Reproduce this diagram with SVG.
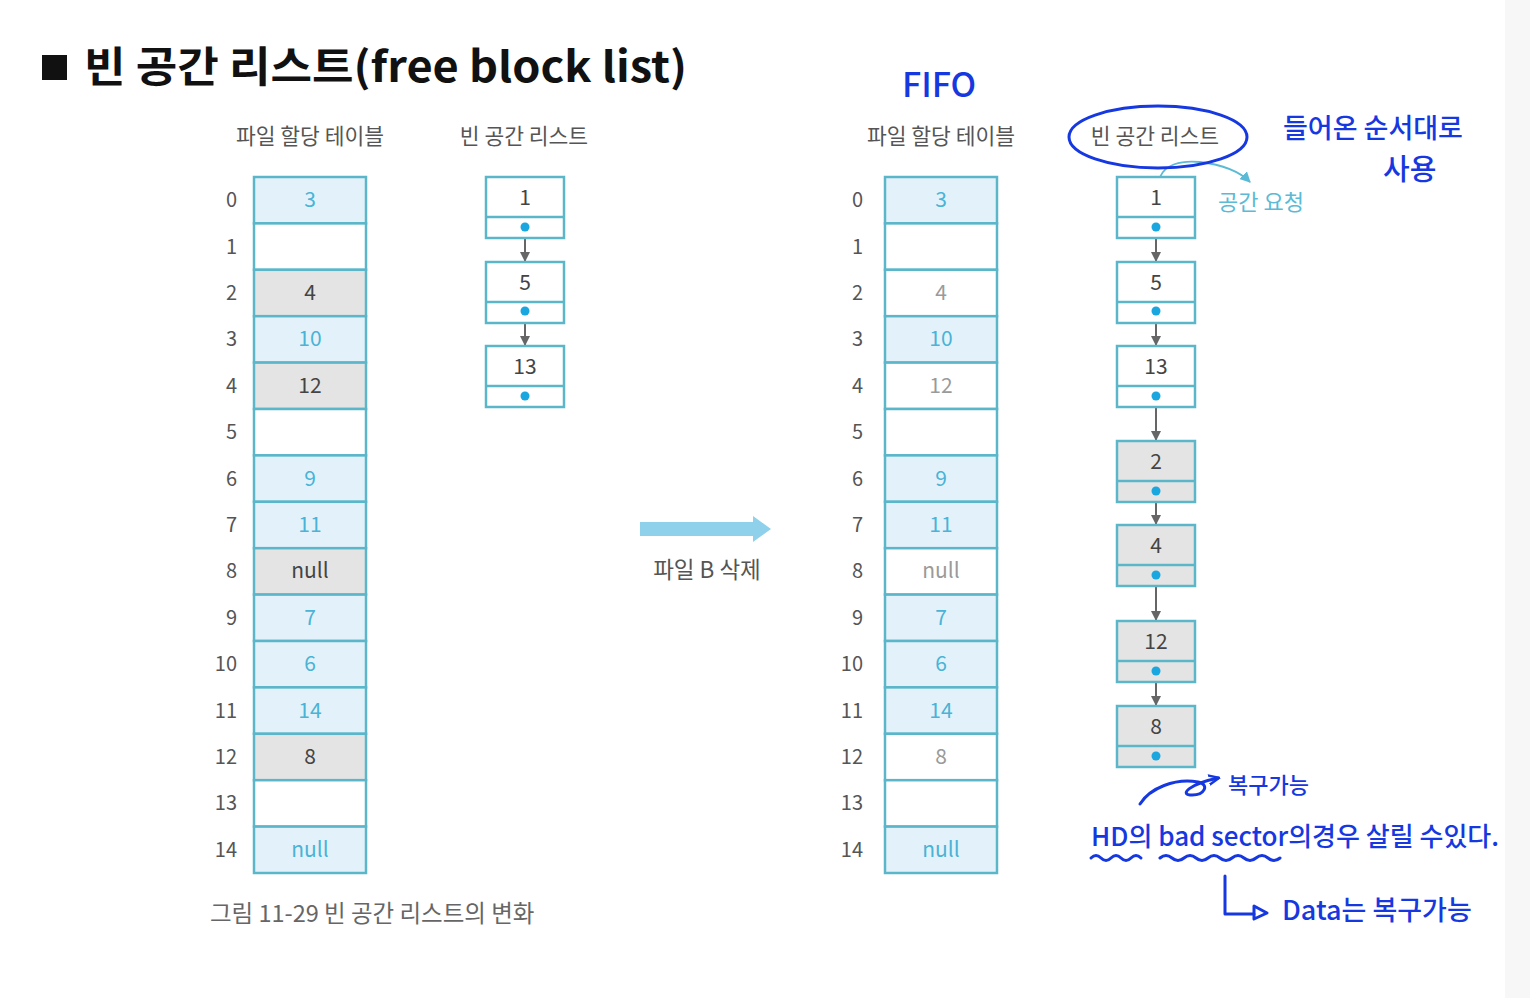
<svg xmlns="http://www.w3.org/2000/svg" width="1530" height="998" viewBox="0 0 1530 998">
<style>
text{font-family:"Noto Sans CJK KR","Noto Sans",sans-serif}
.cell{stroke:#5bb6ca;stroke-width:2.5}
.lb{fill:#e3f2fa}
.gr{fill:#e4e4e4}
.wh{fill:#ffffff}
.idx{font-size:20px;fill:#555;text-anchor:end}
.tv{font-size:21px;fill:#4ab3d6;text-anchor:middle}
.dv{font-size:21px;fill:#444;text-anchor:middle}
.lv{font-size:21px;fill:#9a9a9a;text-anchor:middle}
.hdr{font-size:21.5px;fill:#555;text-anchor:middle}
.dot{fill:#1aa7e0}
.ptr{stroke:#666;stroke-width:2;fill:none}
.hw{fill:#1638e0;font-weight:500}
.hwl{stroke:#1638e0;stroke-width:3;fill:none;stroke-linecap:round;stroke-linejoin:round}
</style>
<defs>
<marker id="ah" viewBox="0 0 10 10" refX="9" refY="5" markerWidth="5" markerHeight="5" orient="auto"><path d="M0,0 L10,5 L0,10 z" fill="#666"/></marker>
<marker id="ahT" viewBox="0 0 10 10" refX="9" refY="5" markerWidth="6" markerHeight="6" orient="auto"><path d="M0,0 L10,5 L0,10 z" fill="#5bbad5"/></marker>
<marker id="ahB" viewBox="0 0 10 10" refX="8" refY="5" markerWidth="4" markerHeight="4" orient="auto"><path d="M0,1 L9,5 L0,9" fill="none" stroke="#1638e0" stroke-width="2"/></marker>
</defs>
<rect width="1530" height="998" fill="#ffffff"/>
<rect x="1505" y="0" width="25" height="998" fill="#f7f7f7"/>

<g id="title">
<rect x="42" y="55" width="25" height="25" fill="#111"/>
<text x="84" y="82" font-size="42" font-weight="700" fill="#111" textLength="603" lengthAdjust="spacingAndGlyphs">빈 공간 리스트(free block list)</text>
</g>

<g id="headers">
<text class="hdr" x="310" y="144">파일 할당 테이블</text>
<text class="hdr" x="524" y="144">빈 공간 리스트</text>
<text class="hdr" x="941" y="144">파일 할당 테이블</text>
<text class="hdr" x="1155" y="144">빈 공간 리스트</text>
</g>

<g id="left-table">
<rect class="cell lb" x="254" y="177" width="112" height="46.4"/>
<rect class="cell wh" x="254" y="223.4" width="112" height="46.4"/>
<rect class="cell gr" x="254" y="269.8" width="112" height="46.4"/>
<rect class="cell lb" x="254" y="316.2" width="112" height="46.4"/>
<rect class="cell gr" x="254" y="362.6" width="112" height="46.4"/>
<rect class="cell wh" x="254" y="409" width="112" height="46.4"/>
<rect class="cell lb" x="254" y="455.4" width="112" height="46.4"/>
<rect class="cell lb" x="254" y="501.8" width="112" height="46.4"/>
<rect class="cell gr" x="254" y="548.2" width="112" height="46.4"/>
<rect class="cell lb" x="254" y="594.6" width="112" height="46.4"/>
<rect class="cell lb" x="254" y="641" width="112" height="46.4"/>
<rect class="cell lb" x="254" y="687.4" width="112" height="46.4"/>
<rect class="cell gr" x="254" y="733.8" width="112" height="46.4"/>
<rect class="cell wh" x="254" y="780.2" width="112" height="46.4"/>
<rect class="cell lb" x="254" y="826.6" width="112" height="46.4"/>
<text class="tv" x="310" y="207">3</text>
<text class="dv" x="310" y="300">4</text>
<text class="tv" x="310" y="346">10</text>
<text class="dv" x="310" y="393">12</text>
<text class="tv" x="310" y="486">9</text>
<text class="tv" x="310" y="532">11</text>
<text class="dv" x="310" y="578">null</text>
<text class="tv" x="310" y="625">7</text>
<text class="tv" x="310" y="671">6</text>
<text class="tv" x="310" y="718">14</text>
<text class="dv" x="310" y="764">8</text>
<text class="tv" x="310" y="857">null</text>
<text class="idx" x="237" y="207">0</text>
<text class="idx" x="237" y="254">1</text>
<text class="idx" x="237" y="300">2</text>
<text class="idx" x="237" y="346">3</text>
<text class="idx" x="237" y="393">4</text>
<text class="idx" x="237" y="439">5</text>
<text class="idx" x="237" y="486">6</text>
<text class="idx" x="237" y="532">7</text>
<text class="idx" x="237" y="578">8</text>
<text class="idx" x="237" y="625">9</text>
<text class="idx" x="237" y="671">10</text>
<text class="idx" x="237" y="718">11</text>
<text class="idx" x="237" y="764">12</text>
<text class="idx" x="237" y="810">13</text>
<text class="idx" x="237" y="857">14</text>
</g>

<g id="right-table">
<rect class="cell lb" x="885" y="177" width="112" height="46.4"/>
<rect class="cell wh" x="885" y="223.4" width="112" height="46.4"/>
<rect class="cell wh" x="885" y="269.8" width="112" height="46.4"/>
<rect class="cell lb" x="885" y="316.2" width="112" height="46.4"/>
<rect class="cell wh" x="885" y="362.6" width="112" height="46.4"/>
<rect class="cell wh" x="885" y="409" width="112" height="46.4"/>
<rect class="cell lb" x="885" y="455.4" width="112" height="46.4"/>
<rect class="cell lb" x="885" y="501.8" width="112" height="46.4"/>
<rect class="cell wh" x="885" y="548.2" width="112" height="46.4"/>
<rect class="cell lb" x="885" y="594.6" width="112" height="46.4"/>
<rect class="cell lb" x="885" y="641" width="112" height="46.4"/>
<rect class="cell lb" x="885" y="687.4" width="112" height="46.4"/>
<rect class="cell wh" x="885" y="733.8" width="112" height="46.4"/>
<rect class="cell wh" x="885" y="780.2" width="112" height="46.4"/>
<rect class="cell lb" x="885" y="826.6" width="112" height="46.4"/>
<text class="tv" x="941" y="207">3</text>
<text class="lv" x="941" y="300">4</text>
<text class="tv" x="941" y="346">10</text>
<text class="lv" x="941" y="393">12</text>
<text class="tv" x="941" y="486">9</text>
<text class="tv" x="941" y="532">11</text>
<text class="lv" x="941" y="578">null</text>
<text class="tv" x="941" y="625">7</text>
<text class="tv" x="941" y="671">6</text>
<text class="tv" x="941" y="718">14</text>
<text class="lv" x="941" y="764">8</text>
<text class="tv" x="941" y="857">null</text>
<text class="idx" x="863" y="207">0</text>
<text class="idx" x="863" y="254">1</text>
<text class="idx" x="863" y="300">2</text>
<text class="idx" x="863" y="346">3</text>
<text class="idx" x="863" y="393">4</text>
<text class="idx" x="863" y="439">5</text>
<text class="idx" x="863" y="486">6</text>
<text class="idx" x="863" y="532">7</text>
<text class="idx" x="863" y="578">8</text>
<text class="idx" x="863" y="625">9</text>
<text class="idx" x="863" y="671">10</text>
<text class="idx" x="863" y="718">11</text>
<text class="idx" x="863" y="764">12</text>
<text class="idx" x="863" y="810">13</text>
<text class="idx" x="863" y="857">14</text>
</g>

<g id="connectors">
<line class="ptr" x1="525" y1="227" x2="525" y2="261" marker-end="url(#ah)"/>
<line class="ptr" x1="525" y1="311" x2="525" y2="345" marker-end="url(#ah)"/>
<line class="ptr" x1="1156" y1="227" x2="1156" y2="261" marker-end="url(#ah)"/>
<line class="ptr" x1="1156" y1="311" x2="1156" y2="345" marker-end="url(#ah)"/>
<line class="ptr" x1="1156" y1="396" x2="1156" y2="440" marker-end="url(#ah)"/>
<line class="ptr" x1="1156" y1="491" x2="1156" y2="524" marker-end="url(#ah)"/>
<line class="ptr" x1="1156" y1="575" x2="1156" y2="620" marker-end="url(#ah)"/>
<line class="ptr" x1="1156" y1="671" x2="1156" y2="705" marker-end="url(#ah)"/>
<path d="M1160,177 C1165,165 1180,160 1200,162 C1225,165 1240,172 1250,182" stroke="#5bbad5" stroke-width="1.8" fill="none" marker-end="url(#ahT)"/>
</g>

<g id="left-list">
<g id="L1"><rect class="cell wh" x="486" y="177" width="78" height="61"/><line class="cell" x1="486" y1="217" x2="564" y2="217"/><text class="dv" x="525" y="205">1</text><circle class="dot" cx="525" cy="227" r="4.5"/></g>
<g id="L5"><rect class="cell wh" x="486" y="262" width="78" height="61"/><line class="cell" x1="486" y1="302" x2="564" y2="302"/><text class="dv" x="525" y="290">5</text><circle class="dot" cx="525" cy="311" r="4.5"/></g>
<g id="L13"><rect class="cell wh" x="486" y="346" width="78" height="61"/><line class="cell" x1="486" y1="386" x2="564" y2="386"/><text class="dv" x="525" y="374">13</text><circle class="dot" cx="525" cy="396" r="4.5"/></g>
</g>

<g id="right-list">
<g id="R1"><rect class="cell wh" x="1117" y="177" width="78" height="61"/><line class="cell" x1="1117" y1="217" x2="1195" y2="217"/><text class="dv" x="1156" y="205">1</text><circle class="dot" cx="1156" cy="227" r="4.5"/></g>
<g id="R5"><rect class="cell wh" x="1117" y="262" width="78" height="61"/><line class="cell" x1="1117" y1="302" x2="1195" y2="302"/><text class="dv" x="1156" y="290">5</text><circle class="dot" cx="1156" cy="311" r="4.5"/></g>
<g id="R13"><rect class="cell wh" x="1117" y="346" width="78" height="61"/><line class="cell" x1="1117" y1="386" x2="1195" y2="386"/><text class="dv" x="1156" y="374">13</text><circle class="dot" cx="1156" cy="396" r="4.5"/></g>
<g id="R2"><rect class="cell gr" x="1117" y="441" width="78" height="61"/><line class="cell" x1="1117" y1="481" x2="1195" y2="481"/><text class="dv" x="1156" y="469">2</text><circle class="dot" cx="1156" cy="491" r="4.5"/></g>
<g id="R4"><rect class="cell gr" x="1117" y="525" width="78" height="61"/><line class="cell" x1="1117" y1="565" x2="1195" y2="565"/><text class="dv" x="1156" y="553">4</text><circle class="dot" cx="1156" cy="575" r="4.5"/></g>
<g id="R12"><rect class="cell gr" x="1117" y="621" width="78" height="61"/><line class="cell" x1="1117" y1="661" x2="1195" y2="661"/><text class="dv" x="1156" y="649">12</text><circle class="dot" cx="1156" cy="671" r="4.5"/></g>
<g id="R8"><rect class="cell gr" x="1117" y="706" width="78" height="61"/><line class="cell" x1="1117" y1="746" x2="1195" y2="746"/><text class="dv" x="1156" y="734">8</text><circle class="dot" cx="1156" cy="756" r="4.5"/></g>
</g>

<g id="request-label">
<text x="1218" y="210" font-size="22" fill="#5bbad5">공간 요청</text>
</g>

<g id="delete-arrow">
<path d="M640,522 H753 V516 L771,529 L753,542 V536 H640 Z" fill="#8fd0ea"/>
<text x="707" y="578" font-size="22.5" fill="#555" text-anchor="middle">파일 B 삭제</text>
</g>

<g id="caption">
<text x="210" y="922" font-size="23.5" fill="#666">그림 11-29  빈 공간 리스트의 변화</text>
</g>

<g id="annotations">
<text class="hw" x="902" y="97" font-size="34">FIFO</text>
<ellipse cx="1158" cy="137" rx="89" ry="31" class="hwl"/>
<text class="hw" x="1283" y="138" font-size="27">들어온 순서대로</text>
<text class="hw" x="1383" y="180" font-size="29">사용</text>
<path class="hwl" d="M1140,804 C1150,788 1175,778 1198,782 C1210,784 1205,796 1190,795 C1180,794 1190,784 1218,778" marker-end="url(#ahB)"/>
<text class="hw" x="1228" y="793" font-size="22">복구가능</text>
<text class="hw" x="1091" y="846" font-size="26">HD의 bad sector의경우 살릴 수있다.</text>
<path class="hwl" stroke-width="2.5" d="M1091,858 q5,-5 10,0 t10,0 t10,0 t10,0 t10,0"/>
<path class="hwl" stroke-width="2.5" d="M1160,858 q6,-5 12,0 t12,0 t12,0 t12,0 t12,0 t12,0 t12,0 t12,0 t12,0 t12,0"/>
<path class="hwl" d="M1225,876 V914 H1254"/>
<path class="hwl" d="M1254,906 L1267,913 L1254,919 Z"/>
<text class="hw" x="1282" y="920" font-size="27">Data는 복구가능</text>
</g>
</svg>
